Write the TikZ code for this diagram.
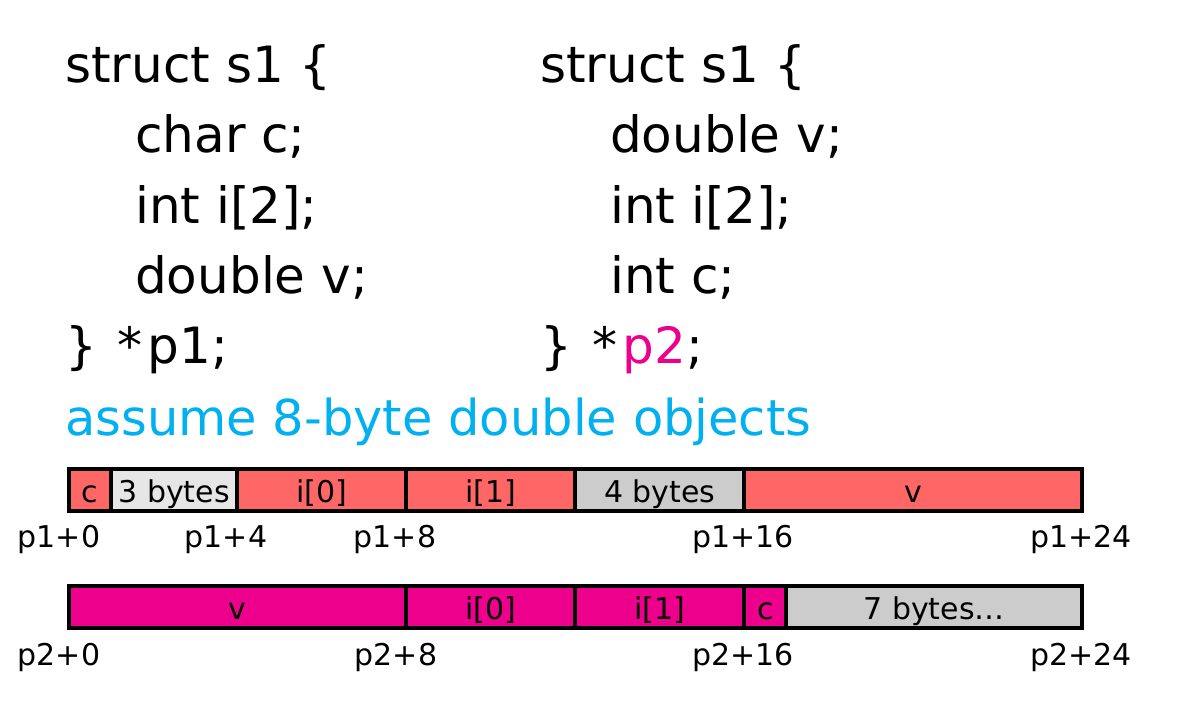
\documentclass[tikz,border=0pt]{standalone}
\usepackage{fontspec}
\setmainfont{DejaVu Sans}
\newfontfamily\labfont{DejaVu Sans}
\definecolor{salmon}{HTML}{FF6666}
\definecolor{magent}{HTML}{EC008C}
\definecolor{lgray}{HTML}{E6E6E6}
\definecolor{mgray}{HTML}{CCCCCC}
\definecolor{cyantext}{HTML}{00B0F0}
\tikzset{
  codeline/.style={anchor=base west, inner sep=0pt, font=\fontsize{50}{60}\selectfont},
  cell/.style={draw=black, line width=4pt, anchor=west, minimum height=42pt, inner sep=0pt, outer sep=0pt},
  celltext/.style={anchor=base, inner sep=0pt, font=\labfont\fontsize{30}{36}\selectfont},
  offlabel/.style={anchor=base, inner sep=0pt, font=\labfont\fontsize{30}{36}\selectfont}
}
\begin{document}
\begin{tikzpicture}[x=1pt,y=-1pt]
\useasboundingbox (0,0) rectangle (1204,706);
% left code
\node[codeline] (l1) at (65,83) {struct s1 \{};
\node[codeline] (l2) at (135,153) {char c;};
\node[codeline] (l3) at (135,223) {int i[2];};
\node[codeline] (l4) at (135,293) {double v;};
\node[codeline] (l5) at (65,363) {\} \hspace{0.1em}*\hspace{0.1em}p1;};
% right code
\node[codeline] (r1) at (540,83) {struct s1 \{};
\node[codeline] (r2) at (610,153) {double v;};
\node[codeline] (r3) at (610,223) {int i[2];};
\node[codeline] (r4) at (610,293) {int c;};
\node[codeline] (r5) at (540,363) {\} \hspace{0.1em}*\hspace{0.1em}\textcolor{magent}{p2};};
\node[codeline, text=cyantext, font=\fontsize{49.5}{60}\selectfont] (note) at (65,435) {assume 8-byte double objects};
% bar 1
\def\u{42.23}
\foreach \n/\s/\w/\col/\t in {a/0/1/salmon/c, b/1/3/lgray/3 bytes, c/4/4/salmon/i[0], d/8/4/salmon/i[1], e/12/4/mgray/4 bytes, f/16/8/salmon/v}{
  \node[cell, fill=\col, minimum width=\w*\u pt] (p1\n) at (68.5+\s*\u,490) {};
  \node[celltext] (t1\n) at (68.5+\s*\u+\w*\u/2,502) {\t};
}
% bar 2
\foreach \n/\s/\w/\col/\t in {a/0/8/magent/v, b/8/4/magent/i[0], c/12/4/magent/i[1], d/16/1/magent/c, e/17/7/mgray/7 bytes\ldots}{
  \node[cell, fill=\col, minimum width=\w*\u pt] (p2\n) at (68.5+\s*\u,607) {};
  \node[celltext] (t2\n) at (68.5+\s*\u+\w*\u/2,619) {\t};
}
% offset labels
\node[offlabel] (o10) at (59,547) {p1+0};
\node[offlabel] (o14) at (226,547) {p1+4};
\node[offlabel] (o18) at (395,547) {p1+8};
\node[offlabel] (o116) at (743,547) {p1+16};
\node[offlabel] (o124) at (1081,547) {p1+24};
\node[offlabel] (o20) at (59,665) {p2+0};
\node[offlabel] (o28) at (396,665) {p2+8};
\node[offlabel] (o216) at (743,665) {p2+16};
\node[offlabel] (o224) at (1081,665) {p2+24};
\end{tikzpicture}
\end{document}
